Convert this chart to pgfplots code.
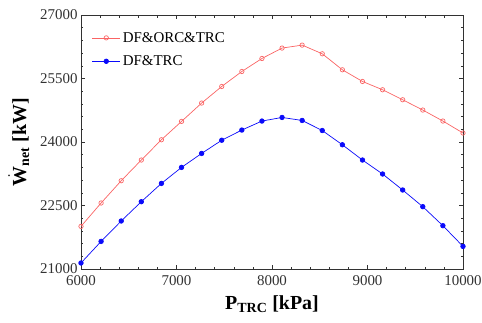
\documentclass[border=0pt]{standalone}
\usepackage{amsmath}
\usepackage{fontspec}
\setmainfont{Liberation Serif}
\usepackage{pgfplots}
\pgfplotsset{compat=1.18}
\definecolor{lred}{RGB}{250,100,100}
\definecolor{lblue}{RGB}{10,10,250}
\definecolor{tickgray}{RGB}{50,50,50}
\begin{document}
\begin{tikzpicture}
\useasboundingbox (-81bp,-54bp) rectangle (401bp,269bp);
\begin{axis}[
  at={(0,0)}, anchor=south west,
  width=382bp, height=254bp, scale only axis,
  xmin=6000, xmax=10000, ymin=21000, ymax=27000,
  xtick={6000,7000,8000,9000,10000},
  ytick={21000,22500,24000,25500,27000},
  minor x tick num=4, minor y tick num=4,
  tick align=inside, tick pos=both,
  major tick length=4bp, minor tick length=2.5bp,
  every tick/.style={tickgray, line width=0.5pt},
  axis line style={tickgray, line width=0.7pt},
  /pgf/number format/assume math mode=true,
  /pgf/number format/1000 sep={},
  scaled ticks=false,
  tick label style={font=\fontsize{15}{18}\selectfont, text=tickgray},
  xticklabel style={yshift=-3bp},
  xlabel={\textbf{P\textsubscript{TRC} [kPa]}},
  ylabel={$\dot{\text{\textbf{W}}}$\textbf{\textsubscript{net} [kW]}},
  xlabel style={font=\fontsize{20}{24}\selectfont, yshift=-3bp},
  ylabel style={font=\fontsize{20}{24}\selectfont, yshift=4bp},
  legend style={draw=none, fill=none, at={(axis description cs:0.025,0.945)}, anchor=north west,
    font=\fontsize{15}{18}\selectfont, row sep=8bp, inner sep=1bp},
  legend cell align=left,
  legend image code/.code={
    \draw[mark repeat=2,mark phase=2] plot coordinates {(0cm,0cm) (0.5cm,0cm) (1.0cm,0cm)};},
]
\addplot[lred, line width=0.7pt, mark=o, mark size=2.2pt, mark options={solid, line width=0.7pt}] coordinates {
(6000,22007) (6210.5,22559) (6421.1,23085) (6631.6,23574) (6842.1,24053)
(7052.6,24486) (7263.2,24920) (7473.7,25312) (7684.2,25666) (7894.7,25973)
(8105.3,26219) (8315.8,26289) (8526.3,26084) (8736.8,25706) (8947.4,25430)
(9157.9,25234) (9368.4,24998) (9578.9,24755) (9789.5,24495) (10000,24212)
};
\addlegendentry{DF\&ORC\&TRC}
\addplot[lblue, line width=0.7pt, mark=*, mark size=2.3pt, mark options={solid}] coordinates {
(6000,21142) (6210.5,21652) (6421.1,22134) (6631.6,22590) (6842.1,23022)
(7052.6,23400) (7263.2,23730) (7473.7,24042) (7684.2,24282) (7894.7,24495)
(8105.3,24580) (8315.8,24509) (8526.3,24271) (8736.8,23935) (8947.4,23574)
(9157.9,23244) (9368.4,22866) (9578.9,22472) (9789.5,22023) (10000,21534)
};
\addlegendentry{DF\&TRC}
\end{axis}
\end{tikzpicture}
\end{document}
